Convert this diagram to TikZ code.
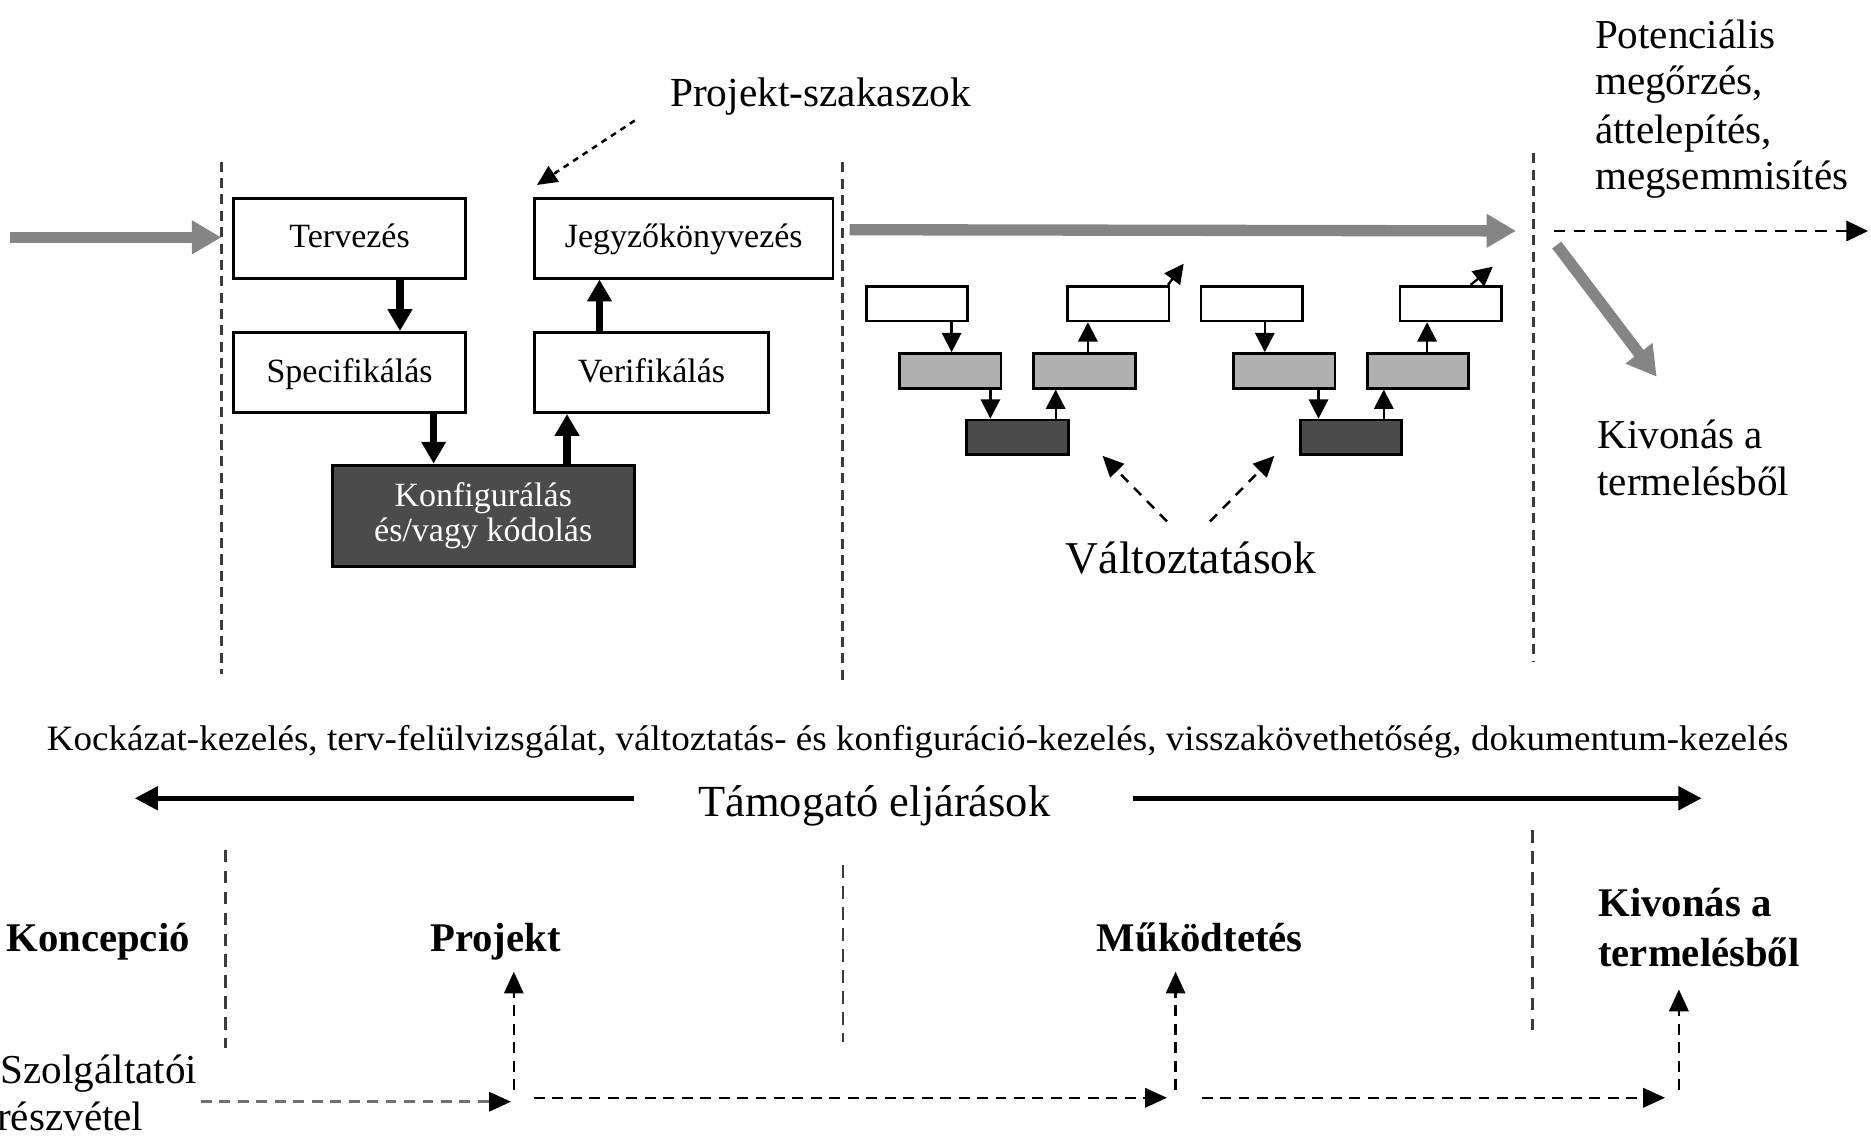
\documentclass[tikz,border=0pt]{standalone}
\usepackage{fontspec}
\setmainfont{Liberation Serif}
\usetikzlibrary{arrows.meta}
\definecolor{garr}{HTML}{858585}
\definecolor{gbox}{HTML}{B0B0B0}
\definecolor{dbox}{HTML}{4B4B4B}
\definecolor{dline}{HTML}{3C3C3C}
\definecolor{lgray}{HTML}{707070}
\tikzset{
  box/.style={draw, line width=0.7pt, inner sep=0pt, fill=white, minimum height=0.67cm,
    font=\fontsize{8.1}{8.4}\selectfont, text height=0.68em, text depth=0.22em},
  konfbox/.style={draw, line width=0.7pt, inner sep=0pt, fill=dbox, text=white, align=center,
    minimum width=2.53cm, minimum height=0.85cm, font=\fontsize{8.1}{8.35}\selectfont},
  sbox/.style={draw, line width=0.65pt, minimum width=0.85cm, minimum height=0.29cm, inner sep=0pt},
  karr/.style={line width=1.7pt, -{Triangle[length=5.2pt,width=5.6pt]}},
  sarr/.style={line width=0.55pt, -{Triangle[length=4.6pt,width=4.6pt]}},
  garrow/.style={draw=garr, line width=2.7pt, -{Triangle[length=7pt,width=7.6pt]}},
  phaseline/.style={draw=dline, line width=0.7pt, dash pattern=on 2.4pt off 1.5pt},
  lowline/.style={draw=dline, line width=0.6pt, dash pattern=on 3pt off 2pt},
  dasharr/.style={line width=0.6pt, dash pattern=on 2.6pt off 1.8pt, -{Triangle[length=5.2pt,width=4.6pt]}},
  chgarr/.style={line width=0.6pt, dash pattern=on 2.4pt off 2pt, -{Triangle[length=5pt,width=4.6pt]}},
  supparr/.style={line width=1.1pt, -{Triangle[length=5.5pt,width=5.5pt]}},
  lbl/.style={anchor=base west, inner sep=0pt, font=\fontsize{9.8}{11}\selectfont},
  blbl/.style={anchor=base west, inner sep=0pt, font=\fontsize{9.7}{11}\selectfont\bfseries},
  biglbl/.style={anchor=base west, inner sep=0pt, font=\fontsize{10.7}{12}\selectfont}
}
\begin{document}
\begin{tikzpicture}[x=0.01cm,y=-0.01cm]
\useasboundingbox (0,0) rectangle (1568,957);

% phase separators (top)
\draw[phaseline] (185.5,135.5) -- (185.5,565);
\draw[phaseline] (706.3,136) -- (706.3,572);
\draw[phaseline] (1285,128.5) -- (1285,555);
% phase separators (bottom)
\draw[lowline] (189,712) -- (189,878);
\draw[lowline] (706.3,725) -- (706.3,873);
\draw[lowline] (1284.2,695.6) -- (1284.2,863);

% project boxes
\node[box, minimum width=1.94cm] (terv) at (293,199.5) {Tervezés};
\node[box, minimum width=2.50cm] (jegy) at (573,199.5) {Jegyzőkönyvezés};
\node[box, minimum width=1.94cm] (spec) at (293,312.2) {Specifikálás};
\node[box, minimum width=1.96cm] (verif) at (546,312.2) {Verifikálás};
\node[konfbox] (konf) at (405,432.3) {Konfigurálás\\és/vagy kódolás};

\coordinate (k1) at (335.2,0);
\coordinate (k2) at (363.4,0);
\coordinate (k3) at (475.2,0);
\coordinate (k4) at (502.4,0);
\draw[karr] (terv.south -| k1) -- (spec.north -| k1);
\draw[karr] (spec.south -| k2) -- (konf.north -| k2);
\draw[karr] (konf.north -| k3) -- (verif.south -| k3);
\draw[karr] (verif.north -| k4) -- (jegy.south -| k4);

% Projekt-szakaszok label
\node[lbl, font=\fontsize{9.85}{11}\selectfont] (pszak) at (561,89.4) {Projekt-szakaszok};
\coordinate (pszs) at (532,101);
\coordinate (psze) at (450,155);
\draw[line width=0.6pt, dash pattern=on 1.4pt off 1.3pt, -{Triangle[length=4.8pt,width=4.4pt]}] (pszs) -- (psze);

% main gray flow arrows
\coordinate (inA) at (8,198.9);
\coordinate (inB) at (185.5,198.9);
\draw[garrow] (inA) -- (inB);
\coordinate (opA) at (712,192.5);
\coordinate (opB) at (1270.5,193.5);
\draw[garrow] (opA) -- (opB);
\coordinate (ptA) at (1302,193.6);
\coordinate (ptB) at (1565.6,193.6);
\draw[line width=0.7pt, dash pattern=on 2.8pt off 2pt, -{Triangle[length=5.2pt,width=4.8pt]}] (ptA) -- (ptB);
\coordinate (wdA) at (1304.6,205.3);
\coordinate (wdB) at (1388.4,315.7);
\draw[garrow] (wdA) -- (wdB);

% operation: change cycles
\node[sbox, fill=white] (sA) at (768.5,254.4) {};
\node[sbox, fill=white] (sB) at (937.2,254.4) {};
\node[sbox, fill=white] (sC) at (1049,254.4) {};
\node[sbox, fill=white] (sD) at (1215.8,254.4) {};
\node[sbox, fill=gbox] (sE) at (796.4,310.8) {};
\node[sbox, fill=gbox] (sF) at (908.8,310.8) {};
\node[sbox, fill=gbox] (sG) at (1076.2,310.8) {};
\node[sbox, fill=gbox] (sH) at (1188.3,310.8) {};
\node[sbox, fill=dbox] (sI) at (852.7,366.5) {};
\node[sbox, fill=dbox] (sJ) at (1132.3,366.5) {};

\coordinate (x1) at (797.5,0);
\coordinate (x2) at (830,0);
\coordinate (x3) at (884.7,0);
\coordinate (x4) at (911.7,0);
\coordinate (x5) at (1060,0);
\coordinate (x6) at (1105,0);
\coordinate (x7) at (1159.7,0);
\coordinate (x8) at (1196,0);
\draw[sarr] (sA.south -| x1) -- (sE.north -| x1);
\draw[sarr] (sE.south -| x2) -- (sI.north -| x2);
\draw[sarr] (sI.north -| x3) -- (sF.south -| x3);
\draw[sarr] (sF.north -| x4) -- (sB.south -| x4);
\draw[sarr] (sC.south -| x5) -- (sG.north -| x5);
\draw[sarr] (sG.south -| x6) -- (sJ.north -| x6);
\draw[sarr] (sJ.north -| x7) -- (sH.south -| x7);
\draw[sarr] (sH.north -| x8) -- (sD.south -| x8);
\coordinate (oB) at (992,221);
\coordinate (oD) at (1251,223.5);
\draw[sarr] (sB.north east) ++(-0.02cm,0) -- (oB);
\draw[sarr] (sD.north east) ++(-0.27cm,0) -- (oD);

% Változtatások label
\node[biglbl, font=\fontsize{10.85}{12}\selectfont] (valt) at (892.6,480.5) {Változtatások};
\coordinate (v1s) at (978,437);
\coordinate (v1e) at (924,382);
\coordinate (v2s) at (1014,437);
\coordinate (v2e) at (1068,382);
\draw[chgarr] (v1s) -- (v1e);
\draw[chgarr] (v2s) -- (v2e);

% right side labels
\node[lbl] (pot1) at (1336,40.5) {Potenciális};
\node[lbl] (pot2) at (1336,79.6) {megőrzés,};
\node[lbl] (pot3) at (1336,120) {áttelepítés,};
\node[lbl] (pot4) at (1336,159.2) {megsemmisítés};
\node[lbl] (kiv1) at (1338,375.7) {Kivonás a};
\node[lbl] (kiv2) at (1338,414.9) {termelésből};

% supporting processes
\node[lbl, font=\fontsize{8.5}{10}\selectfont] (kock) at (38.5,628.6)
  {\resizebox{14.585cm}{\height}{Kockázat-kezelés, terv-felülvizsgálat, változtatás- és konfiguráció-kezelés, visszakövethetőség, dokumentum-kezelés}};
\node[biglbl, font=\fontsize{10.6}{12}\selectfont] (tam) at (584.6,684.4) {Támogató eljárások};
\coordinate (tl) at (113,669);
\coordinate (tr) at (1426,669);
\draw[supparr] (531.6,669) -- (tl);
\draw[supparr] (949.7,669) -- (tr);

% lifecycle phases
\node[blbl] (konc) at (4.8,797.6) {Koncepció};
\node[blbl] (proj) at (360,797.6) {Projekt};
\node[blbl] (muk) at (918.6,797.6) {Működtetés};
\node[blbl] (kivb1) at (1338.8,768.2) {Kivonás a};
\node[blbl] (kivb2) at (1338.8,810.2) {termelésből};
\node[lbl] (szol1) at (0,908) {Szolgáltatói};
\node[lbl] (szol2) at (-3,947) {részvétel};

% supplier participation arrows
\coordinate (p0) at (168.4,923.3);
\coordinate (p1) at (428.2,923.3);
\coordinate (p1b) at (430.6,913.5);
\coordinate (p1t) at (430.6,814.3);
\coordinate (p2a) at (447.5,920);
\coordinate (p2) at (978,920);
\coordinate (p2b) at (985.2,913.5);
\coordinate (p2t) at (985.2,814.3);
\coordinate (p3a) at (1007,920);
\coordinate (p3) at (1395.4,920);
\coordinate (p3b) at (1407,913.5);
\coordinate (p3t) at (1407,829.2);
\draw[dasharr, draw=lgray, -{Triangle[length=5.2pt,width=4.6pt,color=black]}] (p0) -- (p1);
\draw[dasharr] (p1b) -- (p1t);
\draw[dasharr] (p2a) -- (p2);
\draw[dasharr] (p2b) -- (p2t);
\draw[dasharr] (p3a) -- (p3);
\draw[dasharr] (p3b) -- (p3t);
\end{tikzpicture}
\end{document}
